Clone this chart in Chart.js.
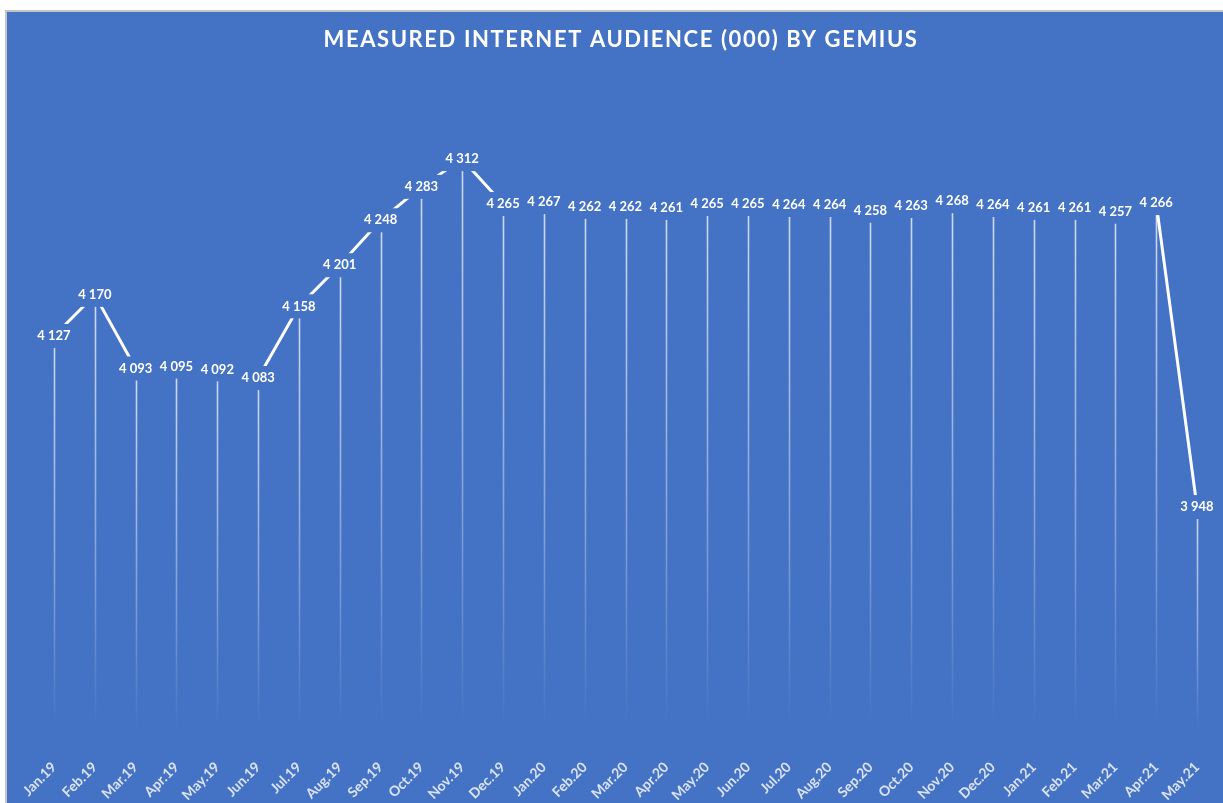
<!DOCTYPE html>
<html><head><meta charset="utf-8">
<script src="https://cdn.jsdelivr.net/npm/chart.js@4.4.0/dist/chart.umd.min.js"></script>
<style>
html,body{margin:0;padding:0;background:#fff;}
#wrap{position:absolute;left:5px;top:10px;border-left:2px solid #c4c4c4;border-top:2px solid #c4c4c4;width:1216px;height:791px;}
canvas{display:block;background:#4472C4;}
</style></head><body>
<div id="wrap"><canvas id="c" width="1216" height="791"></canvas></div>
<script>
const categories = ['Jan.19','Feb.19','Mar.19','Apr.19','May.19','Jun.19','Jul.19','Aug.19','Sep.19','Oct.19','Nov.19','Dec.19',
  'Jan.20','Feb.20','Mar.20','Apr.20','May.20','Jun.20','Jul.20','Aug.20','Sep.20','Oct.20','Nov.20','Dec.20',
  'Jan.21','Feb.21','Mar.21','Apr.21','May.21'];
const audience = [4127,4170,4093,4095,4092,4083,4158,4201,4248,4283,4312,4265,
  4267,4262,4262,4261,4265,4265,4264,4264,4258,4263,4268,4264,
  4261,4261,4257,4266,3948];
const chartTitle = 'MEASURED INTERNET AUDIENCE (000) BY GEMIUS';
const BG = '#4472C4';
function fmt(v){ return String(v).replace(/\B(?=(\d{3})+(?!\d))/g,' '); }

const dropLines = {
  id:'dropLines',
  beforeDatasetsDraw(chart){
    const ctx = chart.ctx, meta = chart.getDatasetMeta(0), bottom = chart.chartArea.bottom + 5;
    ctx.save();
    meta.data.forEach(p=>{
      const g = ctx.createLinearGradient(0,p.y,0,bottom);
      g.addColorStop(0,'rgba(255,255,255,0.75)');
      g.addColorStop(0.6,'rgba(255,255,255,0.35)');
      g.addColorStop(1,'rgba(255,255,255,0)');
      ctx.strokeStyle = g; ctx.lineWidth = 1.6;
      ctx.beginPath(); ctx.moveTo(Math.round(p.x)+0.5,p.y); ctx.lineTo(Math.round(p.x)+0.5,bottom); ctx.stroke();
    });
    ctx.restore();
  }
};
const valueLabels = {
  id:'valueLabels',
  afterDatasetsDraw(chart){
    const ctx = chart.ctx, meta = chart.getDatasetMeta(0), data = chart.data.datasets[0].data;
    ctx.save();
    ctx.font = 'bold 13px Lato';
    ctx.textAlign = 'center'; ctx.textBaseline = 'middle';
    meta.data.forEach((p,i)=>{
      const t = fmt(data[i]);
      const w = ctx.measureText(t).width;
      ctx.fillStyle = BG;
      ctx.fillRect(p.x - w/2 - 5, p.y - 12, w + 10, 24);
      ctx.fillStyle = '#ffffff';
      ctx.fillText(t, p.x, p.y);
    });
    ctx.restore();
  }
};
const titlePlugin = {
  id:'customTitle',
  afterDraw(chart){
    const ctx = chart.ctx;
    ctx.save();
    ctx.font = 'bold 22px Lato';
    ctx.fillStyle = '#ffffff';
    ctx.textAlign = 'center'; ctx.textBaseline = 'middle';
    try { ctx.letterSpacing = '1.6px'; } catch(e) {}
    ctx.fillText(chartTitle, 614, 28);
    ctx.restore();
  }
};

Chart.defaults.font.family = 'Lato';
new Chart(document.getElementById('c'), {
  type:'line',
  data:{ labels:categories, datasets:[{ data:audience, borderColor:'#ffffff', borderWidth:3, pointRadius:0, tension:0, fill:false }]},
  options:{
    responsive:false, animation:false, devicePixelRatio:1,
    layout:{ padding:{ left:47, right:26, top:63, bottom:0 } },
    plugins:{ legend:{display:false}, tooltip:{enabled:false}, title:{display:false} },
    scales:{
      x:{ offset:false, grid:{display:false}, border:{display:false},
          ticks:{ color:'rgba(255,255,255,0.8)', font:{size:14, weight:'bold'}, maxRotation:45, minRotation:45, autoSkip:false, padding:26 },
          afterFit(s){ s.height = 78; s.paddingLeft = 0; s.paddingRight = 0; } },
      y:{ display:false, min:3720, max:4400 }
    }
  },
  plugins:[dropLines, valueLabels, titlePlugin]
});
</script>
</body></html>
